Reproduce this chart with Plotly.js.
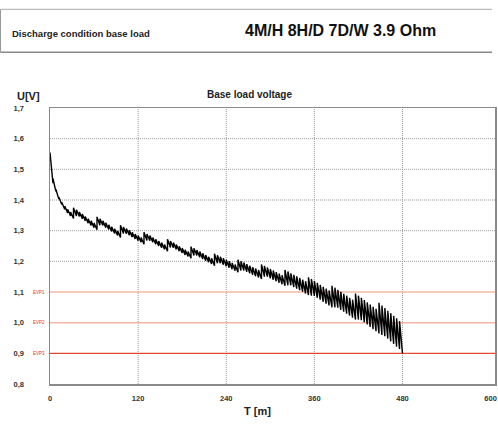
<!DOCTYPE html>
<html>
<head>
<meta charset="utf-8">
<script src="https://cdn.plot.ly/plotly-3.0.1.min.js"></script>
<style>html,body{margin:0;padding:0;background:#fff;}#chart{width:498px;height:430px;}</style>
</head>
<body>
<div id="chart"></div>
<script>
// ---- data ----
const headerLeft = "Discharge condition base load";
const headerRight = "4M/H 8H/D 7D/W 3.9 Ohm";
const chartTitle = "Base load voltage";
const yAxisLabel = "U[V]";
const xAxisLabel = "T [m]";

const yTickVals = [0.8, 0.9, 1.0, 1.1, 1.2, 1.3, 1.4, 1.5, 1.6, 1.7];
const yTickText = ["0,8", "0,9", "1,0", "1,1", "1,2", "1,3", "1,4", "1,5", "1,6", "1,7"];
const xTickVals = [0, 120, 240, 360, 480, 600];
const xTickText = ["0", "120", "240", "360", "480", "600"];

const gridY = [1.2, 1.3, 1.4, 1.5, 1.6];
const gridX = [120, 240, 360, 480];

const evpNames = ["EVP1", "EVP2", "EVP3"];
const evpVolts = [1.1, 1.0, 0.9];

// discharge pulses (start minute of each 4-minute pulse), voltage at pulse start and at pulse end
const toothStartMin = [0,4,8,12,16,20,24,28, 32,36,40,44,48,52,56,60, 64,68,72,76,80,84,88,92,
  96,100,104,108,112,116,120,124, 128,132,136,140,144,148,152,156, 160,164,168,172,176,180,184,188,
  192,196,200,204,208,212,216,220, 224,228,232,236,240,244,248,252, 256,260,264,268,272,276,280,284,
  288,292,296,300,304,308,312,316, 320,324,328,332,336,340,344,348, 352,356,360,364,368,372,376,380,
  384,388,392,396,400,404,408,412, 416,420,424,428,432,436,440,444, 448,452,456,460,464,468,472,476];
const endMin = 480;

const toothPeakV = [
  1.555,1.470,1.435,1.410,1.393,1.380,1.370,1.361,
  1.375,1.368,1.361,1.354,1.346,1.339,1.332,1.325,
  1.345,1.339,1.332,1.326,1.319,1.313,1.306,1.300,
  1.318,1.312,1.307,1.301,1.295,1.289,1.284,1.278,
  1.295,1.289,1.284,1.278,1.272,1.266,1.261,1.255,
  1.272,1.266,1.261,1.255,1.249,1.243,1.238,1.232,
  1.248,1.243,1.237,1.232,1.226,1.221,1.215,1.210,
  1.225,1.220,1.215,1.210,1.205,1.200,1.195,1.190,
  1.205,1.200,1.196,1.191,1.186,1.181,1.177,1.172,
  1.190,1.185,1.180,1.175,1.170,1.165,1.160,1.155,
  1.172,1.167,1.161,1.156,1.151,1.146,1.140,1.135,
  1.148,1.142,1.136,1.130,1.123,1.117,1.111,1.105,
  1.120,1.114,1.107,1.101,1.094,1.088,1.081,1.075,
  1.095,1.088,1.081,1.074,1.066,1.059,1.052,1.045,
  1.065,1.056,1.048,1.039,1.031,1.022,1.014,1.005];
const toothEndV = [
  1.455,1.428,1.403,1.385,1.370,1.358,1.348,1.340,
  1.348,1.346,1.339,1.332,1.324,1.317,1.310,1.303,
  1.318,1.317,1.310,1.304,1.297,1.291,1.284,1.278,
  1.291,1.290,1.285,1.279,1.273,1.267,1.262,1.256,
  1.268,1.267,1.262,1.256,1.250,1.244,1.239,1.233,
  1.245,1.244,1.239,1.233,1.227,1.221,1.216,1.210,
  1.219,1.219,1.213,1.208,1.202,1.197,1.191,1.186,
  1.194,1.194,1.189,1.184,1.179,1.174,1.169,1.164,
  1.170,1.170,1.166,1.161,1.156,1.151,1.147,1.142,
  1.150,1.150,1.145,1.140,1.135,1.130,1.125,1.120,
  1.122,1.122,1.116,1.111,1.106,1.101,1.095,1.090,
  1.088,1.087,1.081,1.075,1.068,1.062,1.056,1.050,
  1.050,1.049,1.042,1.036,1.029,1.023,1.016,1.010,
  1.010,1.008,1.001,0.994,0.986,0.979,0.972,0.965,
  0.960,0.956,0.948,0.939,0.931,0.922,0.914,0.900];

// ---- build trace ----
const xs = [], ys = [];
for (let k = 0; k < toothStartMin.length; k++) {
  const tEnd = (k + 1 < toothStartMin.length) ? toothStartMin[k + 1] : endMin;
  xs.push(toothStartMin[k]); ys.push(toothPeakV[k]);
  xs.push(tEnd); ys.push(toothEndV[k]);
}

const FONT = "Liberation Sans, Arial, sans-serif";
const shapes = [];
gridY.forEach(v => shapes.push({type:'line', xref:'paper', yref:'y', x0:0, x1:1, y0:v, y1:v,
  line:{color:'#999999', width:1, dash:'1px,1px'}, layer:'below'}));
gridX.forEach(v => shapes.push({type:'line', xref:'x', yref:'paper', x0:v, x1:v, y0:0, y1:1,
  line:{color:'#999999', width:1, dash:'1px,1px'}, layer:'below'}));
const evpColors = ['#f6b8a4', '#f6b8a4', '#e8452c'];
const evpWidths = [1.5, 1.5, 1.2];
evpVolts.forEach((v, i) => shapes.push({type:'line', xref:'paper', yref:'y', x0:0, x1:1, y0:v, y1:v,
  line:{color:evpColors[i], width:evpWidths[i]}, layer:'below'}));
// header box
shapes.push({type:'line', xref:'paper', yref:'paper', x0:-0.1112, x1:0.9933, y0:1.3576, y1:1.3576, line:{color:'#aaaaaa', width:1}});
shapes.push({type:'line', xref:'paper', yref:'paper', x0:-0.1112, x1:0.9933, y0:1.2018, y1:1.2018, line:{color:'#888888', width:1.5}});
shapes.push({type:'line', xref:'paper', yref:'paper', x0:-0.1112, x1:-0.1112, y0:1.2018, y1:1.3576, line:{color:'#999999', width:1}});

const annotations = [
  {text:'<b>' + headerLeft + '</b>', xref:'paper', yref:'paper', x:-0.0899, y:1.2717, xanchor:'left', yanchor:'middle', showarrow:false, font:{family:FONT, size:9.5, color:'#222'}},
  {text:'<b>' + headerRight + '</b>', xref:'paper', yref:'paper', x:0.4337, y:1.2790, xanchor:'left', yanchor:'middle', showarrow:false, font:{family:FONT, size:16, color:'#111'}},
  {text:'<b>' + chartTitle + '</b>', xref:'paper', yref:'paper', x:0.4472, y:1.0482, xanchor:'center', yanchor:'middle', showarrow:false, font:{family:FONT, size:10, color:'#222'}},
  {text:'<b>' + yAxisLabel + '</b>', xref:'paper', yref:'paper', x:-0.0787, y:1.0446, xanchor:'left', yanchor:'middle', showarrow:false, font:{family:FONT, size:11, color:'#222'}},
  {text:'<b>' + xAxisLabel + '</b>', xref:'paper', yref:'paper', x:0.4674, y:-0.0967, xanchor:'center', yanchor:'middle', showarrow:false, font:{family:FONT, size:11, color:'#222'}}
];
evpNames.forEach((n, i) => annotations.push({text:n, xref:'paper', yref:'y', x:-0.0427, y:evpVolts[i], xanchor:'left', yanchor:'middle', showarrow:false, font:{family:FONT, size:4.5, color:'#e03020'}}));

const data = [{x: xs, y: ys, type:'scatter', mode:'lines', line:{color:'#000000', width:1.4}, hoverinfo:'skip'}];

const layout = {
  width:498, height:430,
  margin:{l:50, r:3, t:108, b:46},
  paper_bgcolor:'#ffffff', plot_bgcolor:'#ffffff',
  showlegend:false,
  xaxis:{range:[0,606], tickvals:xTickVals, ticktext:xTickText, showgrid:false, zeroline:false,
    showline:true, mirror:true, linecolor:'#8a8a8a', linewidth:1.5, ticks:'', ticklabelstandoff:6,
    tickfont:{family:FONT, size:7.5, color:'#333', weight:'bold'}},
  yaxis:{range:[0.8,1.7], tickvals:yTickVals, ticktext:yTickText, showgrid:false, zeroline:false,
    showline:true, mirror:true, linecolor:'#8a8a8a', linewidth:1.5, ticks:'', ticklabelstandoff:23,
    tickfont:{family:FONT, size:7.5, color:'#333', weight:'bold'}},
  shapes: shapes,
  annotations: annotations
};

Plotly.newPlot('chart', data, layout, {staticPlot:true, displayModeBar:false});
</script>
</body>
</html>
